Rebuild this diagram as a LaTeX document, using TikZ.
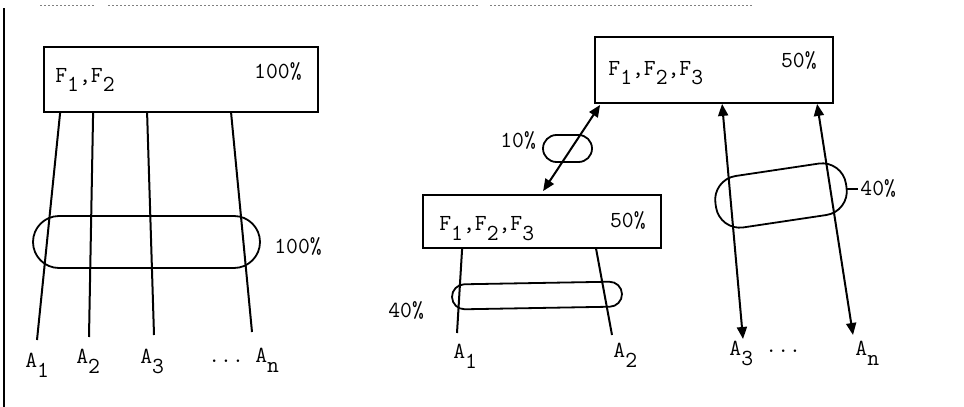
\documentclass[tikz,border=0pt]{standalone}
\usepackage{fontspec}
\usetikzlibrary{arrows.meta,calc}
\newcommand\lo[1]{\raisebox{-5pt}{#1}}
\begin{document}
\begin{tikzpicture}[x=0.5pt,y=-0.5pt,
  txt/.style={font=\ttfamily\fontsize{11.5}{13}\selectfont, inner sep=0pt},
  box/.style={draw, line width=0.9pt, inner sep=0pt},
  ring/.style={draw, line width=0.9pt, inner sep=0pt},
  wire/.style={line width=1pt},
  dbl/.style={line width=1pt, {Triangle[length=6pt,width=5pt]}-{Triangle[length=6pt,width=5pt]}},
  scan/.style={line width=0.5pt, gray, dash pattern=on 1pt off 1pt}]
\useasboundingbox (0,0) rectangle (964,407);
% scan edges
\draw[line width=0.7pt] (4,8) -- (4,407);
\draw[scan] (40,5) -- (95,5);
\draw[scan] (108,5) -- (480,5);
\draw[scan] (490,5) -- (752,5);
% ---------- left diagram ----------
\node[box, minimum width=137pt, minimum height=32.5pt] (lb) at (181,79.5) {};
\node[txt, anchor=base west] (lbt) at (55,82) {F\lo{1},F\lo{2}};
\node[txt, anchor=base east] (lbp) at (302,78) {100\%};
\coordinate (l1) at (37,340);
\coordinate (l2) at (89,337);
\coordinate (l3) at (154,335);
\coordinate (l4) at (252,332);
\draw[wire] ($(lb.south west)+(17,0)$) -- (l1);
\draw[wire] ($(lb.south west)+(50,0)$) -- (l2);
\draw[wire] ($(lb.south west)+(104,0)$) -- (l3);
\draw[wire] ($(lb.south west)+(188,0)$) -- (l4);
\node[ring, minimum width=113.5pt, minimum height=26pt, rounded corners=13pt] (ls) at (146.5,242) {};
\node[txt, anchor=base west] (lsp) at (274,253) {100\%};
\node[txt, anchor=base west] (la1) at (25,367) {A\lo{1}};
\node[txt, anchor=base west] (la2) at (76,363) {A\lo{2}};
\node[txt, anchor=base west] (la3) at (140,363) {A\lo{3}};
\node[txt, anchor=base west] (ldots) at (208,362) {...};
\node[txt, anchor=base west] (lan) at (255,362) {A\lo{n}};
% ---------- right diagram ----------
\node[box, minimum width=119pt, minimum height=33pt] (tb) at (714,70) {};
\node[txt, anchor=base west] (tbt) at (608,75) {F\lo{1},F\lo{2},F\lo{3}};
\node[txt, anchor=base east] (tbp) at (817,68) {50\%};
\node[box, minimum width=119pt, minimum height=26.5pt] (mb) at (542,221.5) {};
\node[txt, anchor=base west] (mbt) at (439,230) {F\lo{1},F\lo{2},F\lo{3}};
\node[txt, anchor=base east] (mbp) at (646,227) {50\%};
% link between boxes
\draw[dbl] ($(tb.south west)+(6,1)$) -- ($(mb.north west)+(121,-3)$);
\node[ring, minimum width=24.5pt, minimum height=13.5pt, rounded corners=6.75pt] (ss) at (567.5,148.5) {};
\node[txt, anchor=base west] (ssp) at (500,147) {10\%};
% lower box wires
\coordinate (m1) at (457,333);
\coordinate (m2) at (612,335);
\draw[wire] ($(mb.south west)+(40,0)$) -- (m1);
\draw[wire] ($(mb.south west)+(174,0)$) -- (m2);
\node[ring, minimum width=85pt, minimum height=12.5pt, rounded corners=6.25pt, rotate=1] (ms) at (537,295.5) {};
\node[txt, anchor=base west] (msp) at (388,317) {40\%};
% top box arrows
\coordinate (r3) at (743,339);
\coordinate (rn) at (853,335);
\draw[dbl] ($(tb.south west)+(128,0)$) -- (r3);
\draw[dbl] ($(tb.south west)+(223,0)$) -- (rn);
\node[ring, minimum width=66pt, minimum height=26pt, rounded corners=12pt, rotate=8.5] (rs) at (781,195.5) {};
\coordinate (rsl) at (858,189);
\draw[line width=0.7pt] (847,189) -- (rsl);
\node[txt, anchor=base west] (rsp) at (860,195) {40\%};
\node[txt, anchor=base west] (ra1) at (453,358) {A\lo{1}};
\node[txt, anchor=base west] (ra2) at (613,357) {A\lo{2}};
\node[txt, anchor=base west] (ra3) at (729,355) {A\lo{3}};
\node[txt, anchor=base west] (rdots) at (765,352) {...};
\node[txt, anchor=base west] (ran) at (855,355) {A\lo{n}};
\end{tikzpicture}
\end{document}
